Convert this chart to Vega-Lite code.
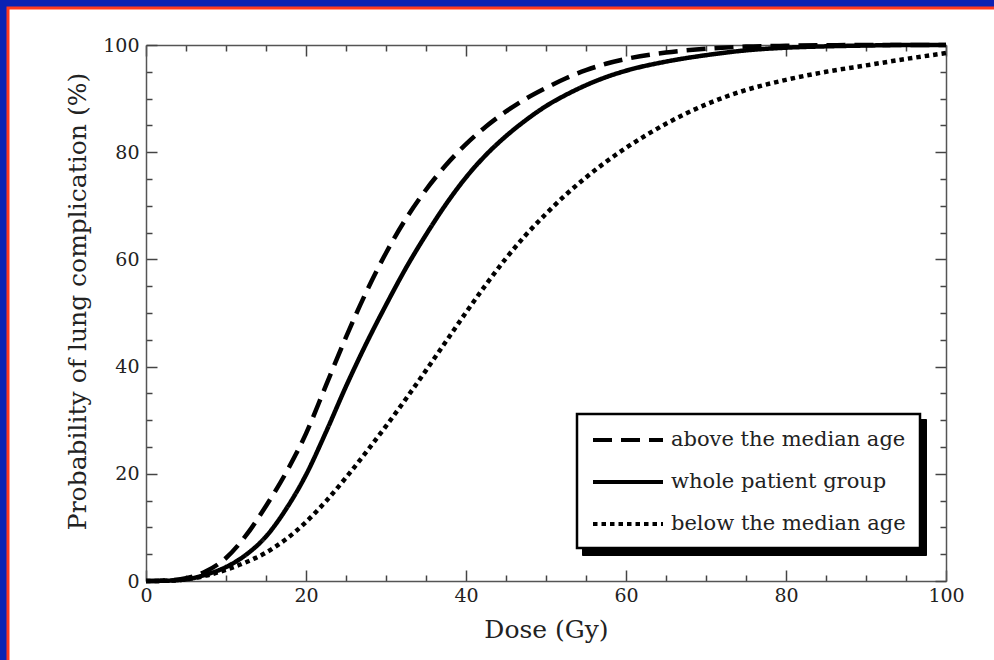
{
  "$schema": "https://vega.github.io/schema/vega-lite/v6.json",
  "width": 990,
  "height": 656,
  "autosize": {"type": "none"},
  "padding": {"left": 8, "top": 8, "right": 0, "bottom": 0},
  "background": "#0a22b4",
  "config": {
    "view": {"fill": "white", "stroke": "#ff3a1f", "strokeWidth": 3},
    "axis": {
      "grid": false,
      "domainColor": "#555",
      "domainWidth": 1.5,
      "tickColor": "#444",
      "tickWidth": 1.5,
      "labelFont": "DejaVu Serif",
      "labelFontSize": 19,
      "labelColor": "#222",
      "labelFlush": false,
      "titleFont": "DejaVu Serif",
      "titleFontSize": 25,
      "titleFontWeight": "normal",
      "titleColor": "#222"
    },
    "legend": {
      "labelFont": "DejaVu Serif",
      "labelFontSize": 21,
      "labelColor": "#222",
      "labelLimit": 400
    }
  },
  "data": {
    "values": [
      {"dose": 0, "p": 0, "group": "above the median age"},
      {"dose": 2.5, "p": 0.1, "group": "above the median age"},
      {"dose": 5, "p": 0.5, "group": "above the median age"},
      {"dose": 7.5, "p": 1.8, "group": "above the median age"},
      {"dose": 10, "p": 4.3, "group": "above the median age"},
      {"dose": 12.5, "p": 8.5, "group": "above the median age"},
      {"dose": 15, "p": 14, "group": "above the median age"},
      {"dose": 17.5, "p": 20.2, "group": "above the median age"},
      {"dose": 20, "p": 27.5, "group": "above the median age"},
      {"dose": 22.5, "p": 36.5, "group": "above the median age"},
      {"dose": 25, "p": 45.5, "group": "above the median age"},
      {"dose": 27.5, "p": 53.8, "group": "above the median age"},
      {"dose": 30, "p": 61.2, "group": "above the median age"},
      {"dose": 32.5, "p": 67.6, "group": "above the median age"},
      {"dose": 35, "p": 73, "group": "above the median age"},
      {"dose": 37.5, "p": 77.6, "group": "above the median age"},
      {"dose": 40, "p": 81.5, "group": "above the median age"},
      {"dose": 42.5, "p": 84.8, "group": "above the median age"},
      {"dose": 45, "p": 87.6, "group": "above the median age"},
      {"dose": 47.5, "p": 90, "group": "above the median age"},
      {"dose": 50, "p": 92, "group": "above the median age"},
      {"dose": 52.5, "p": 93.8, "group": "above the median age"},
      {"dose": 55, "p": 95.3, "group": "above the median age"},
      {"dose": 57.5, "p": 96.5, "group": "above the median age"},
      {"dose": 60, "p": 97.4, "group": "above the median age"},
      {"dose": 65, "p": 98.6, "group": "above the median age"},
      {"dose": 70, "p": 99.3, "group": "above the median age"},
      {"dose": 75, "p": 99.7, "group": "above the median age"},
      {"dose": 80, "p": 99.85, "group": "above the median age"},
      {"dose": 85, "p": 99.95, "group": "above the median age"},
      {"dose": 90, "p": 100, "group": "above the median age"},
      {"dose": 95, "p": 100, "group": "above the median age"},
      {"dose": 100, "p": 100, "group": "above the median age"},
      {"dose": 0, "p": 0, "group": "whole patient group"},
      {"dose": 2.5, "p": 0.05, "group": "whole patient group"},
      {"dose": 5, "p": 0.3, "group": "whole patient group"},
      {"dose": 7.5, "p": 1.2, "group": "whole patient group"},
      {"dose": 10, "p": 2.6, "group": "whole patient group"},
      {"dose": 12.5, "p": 4.9, "group": "whole patient group"},
      {"dose": 15, "p": 8.3, "group": "whole patient group"},
      {"dose": 17.5, "p": 13.4, "group": "whole patient group"},
      {"dose": 20, "p": 19.8, "group": "whole patient group"},
      {"dose": 22.5, "p": 27.8, "group": "whole patient group"},
      {"dose": 25, "p": 36.3, "group": "whole patient group"},
      {"dose": 27.5, "p": 44.2, "group": "whole patient group"},
      {"dose": 30, "p": 51.5, "group": "whole patient group"},
      {"dose": 32.5, "p": 58.4, "group": "whole patient group"},
      {"dose": 35, "p": 64.6, "group": "whole patient group"},
      {"dose": 37.5, "p": 70.3, "group": "whole patient group"},
      {"dose": 40, "p": 75.3, "group": "whole patient group"},
      {"dose": 42.5, "p": 79.5, "group": "whole patient group"},
      {"dose": 45, "p": 83, "group": "whole patient group"},
      {"dose": 47.5, "p": 86, "group": "whole patient group"},
      {"dose": 50, "p": 88.6, "group": "whole patient group"},
      {"dose": 52.5, "p": 90.7, "group": "whole patient group"},
      {"dose": 55, "p": 92.5, "group": "whole patient group"},
      {"dose": 57.5, "p": 94, "group": "whole patient group"},
      {"dose": 60, "p": 95.2, "group": "whole patient group"},
      {"dose": 65, "p": 96.9, "group": "whole patient group"},
      {"dose": 70, "p": 98.1, "group": "whole patient group"},
      {"dose": 75, "p": 99, "group": "whole patient group"},
      {"dose": 80, "p": 99.5, "group": "whole patient group"},
      {"dose": 85, "p": 99.75, "group": "whole patient group"},
      {"dose": 90, "p": 99.9, "group": "whole patient group"},
      {"dose": 95, "p": 100, "group": "whole patient group"},
      {"dose": 100, "p": 100, "group": "whole patient group"},
      {"dose": 0, "p": 0, "group": "below the median age"},
      {"dose": 2.5, "p": 0.05, "group": "below the median age"},
      {"dose": 5, "p": 0.3, "group": "below the median age"},
      {"dose": 7.5, "p": 1.0, "group": "below the median age"},
      {"dose": 10, "p": 2.1, "group": "below the median age"},
      {"dose": 12.5, "p": 3.5, "group": "below the median age"},
      {"dose": 15, "p": 5.3, "group": "below the median age"},
      {"dose": 17.5, "p": 7.8, "group": "below the median age"},
      {"dose": 20, "p": 11, "group": "below the median age"},
      {"dose": 22.5, "p": 14.9, "group": "below the median age"},
      {"dose": 25, "p": 19.3, "group": "below the median age"},
      {"dose": 27.5, "p": 24, "group": "below the median age"},
      {"dose": 30, "p": 28.9, "group": "below the median age"},
      {"dose": 32.5, "p": 34, "group": "below the median age"},
      {"dose": 35, "p": 39.3, "group": "below the median age"},
      {"dose": 37.5, "p": 44.7, "group": "below the median age"},
      {"dose": 40, "p": 50.1, "group": "below the median age"},
      {"dose": 42.5, "p": 55.3, "group": "below the median age"},
      {"dose": 45, "p": 60.2, "group": "below the median age"},
      {"dose": 47.5, "p": 64.6, "group": "below the median age"},
      {"dose": 50, "p": 68.5, "group": "below the median age"},
      {"dose": 52.5, "p": 72.1, "group": "below the median age"},
      {"dose": 55, "p": 75.3, "group": "below the median age"},
      {"dose": 57.5, "p": 78.2, "group": "below the median age"},
      {"dose": 60, "p": 80.8, "group": "below the median age"},
      {"dose": 65, "p": 85.3, "group": "below the median age"},
      {"dose": 70, "p": 88.9, "group": "below the median age"},
      {"dose": 75, "p": 91.6, "group": "below the median age"},
      {"dose": 80, "p": 93.5, "group": "below the median age"},
      {"dose": 85, "p": 95, "group": "below the median age"},
      {"dose": 90, "p": 96.2, "group": "below the median age"},
      {"dose": 95, "p": 97.4, "group": "below the median age"},
      {"dose": 100, "p": 98.5, "group": "below the median age"}
    ]
  },
  "layer": [
    {
      "mark": {"type": "line", "color": "black", "strokeWidth": 4.5, "strokeCap": "butt", "interpolate": "monotone"},
      "encoding": {
        "x": {
          "field": "dose", "type": "quantitative",
          "scale": {"domain": [0, 100], "range": [138, 938], "nice": false, "zero": false},
          "axis": {
            "orient": "bottom", "offset": -83,
            "values": [0,5,10,15,20,25,30,35,40,45,50,55,60,65,70,75,80,85,90,95,100],
            "labelExpr": "datum.value % 20 === 0 ? datum.label : ''",
            "tickSize": {"condition": {"test": "datum.value % 20 === 0", "value": -11}, "value": -6},
            "labelPadding": 16,
            "title": "Dose (Gy)", "titlePadding": 12
          }
        },
        "y": {
          "field": "p", "type": "quantitative",
          "scale": {"domain": [0, 100], "range": [573, 37], "nice": false, "zero": false},
          "axis": {
            "orient": "left", "offset": -138,
            "values": [0,5,10,15,20,25,30,35,40,45,50,55,60,65,70,75,80,85,90,95,100],
            "labelExpr": "datum.value % 20 === 0 ? datum.label : ''",
            "tickSize": {"condition": {"test": "datum.value % 20 === 0", "value": -11}, "value": -6},
            "labelPadding": 18,
            "title": "Probability of lung complication (%)", "titlePadding": 12,
            "titleY": 293
          }
        },
        "strokeDash": {
          "field": "group", "type": "nominal",
          "scale": {
            "domain": ["above the median age", "whole patient group", "below the median age"],
            "range": [[19, 9], [1, 0], [4.5, 4]]
          },
          "legend": {
            "title": null,
            "orient": "none",
            "legendX": 569,
            "legendY": 406,
            "zindex": 2,
            "fillColor": "white",
            "strokeColor": "black",
            "padding": 14,
            "rowPadding": 20,
            "symbolType": "M-1,0H6",
            "symbolSize": 400,
            "symbolStrokeWidth": 4,
            "symbolStrokeColor": "black",
            "labelOffset": 56,
            "encode": {"legend": {"update": {"strokeWidth": {"value": 2.5}}}}
          }
        }
      }
    },
    {
      "mark": {"type": "line", "strokeOpacity": 0},
      "encoding": {
        "x": {
          "field": "dose", "type": "quantitative",
          "scale": {"domain": [0, 100], "range": [138, 938], "nice": false, "zero": false},
          "axis": {
            "orient": "top", "offset": -37, "labels": false, "title": null,
            "values": [0,5,10,15,20,25,30,35,40,45,50,55,60,65,70,75,80,85,90,95,100],
            "tickSize": {"condition": {"test": "datum.value % 20 === 0", "value": -11}, "value": -6}
          }
        },
        "y": {
          "field": "p", "type": "quantitative",
          "scale": {"domain": [0, 100], "range": [573, 37], "nice": false, "zero": false},
          "axis": {
            "orient": "right", "offset": -52, "labels": false, "title": null,
            "values": [0,5,10,15,20,25,30,35,40,45,50,55,60,65,70,75,80,85,90,95,100],
            "tickSize": {"condition": {"test": "datum.value % 20 === 0", "value": -11}, "value": -6}
          }
        },
        "opacity": {
          "field": "group", "type": "nominal",
          "scale": {
            "domain": ["whole patient group", "above the median age", "below the median age"],
            "range": [1, 1, 1]
          },
          "legend": {
            "title": null,
            "orient": "none",
            "legendX": 574,
            "legendY": 411,
            "zindex": 1,
            "fillColor": "black",
            "strokeColor": "black",
            "padding": 14,
            "rowPadding": 0,
            "symbolType": "M-1,-1H16.85V1H-1Z",
            "symbolSize": 1248,
            "symbolFillColor": "black",
            "symbolStrokeColor": "black",
            "symbolStrokeWidth": 0,
            "labelExpr": "''",
            "labelOffset": 0
          }
        }
      }
    }
  ],
  "resolve": {"axis": {"x": "independent", "y": "independent"}}
}
